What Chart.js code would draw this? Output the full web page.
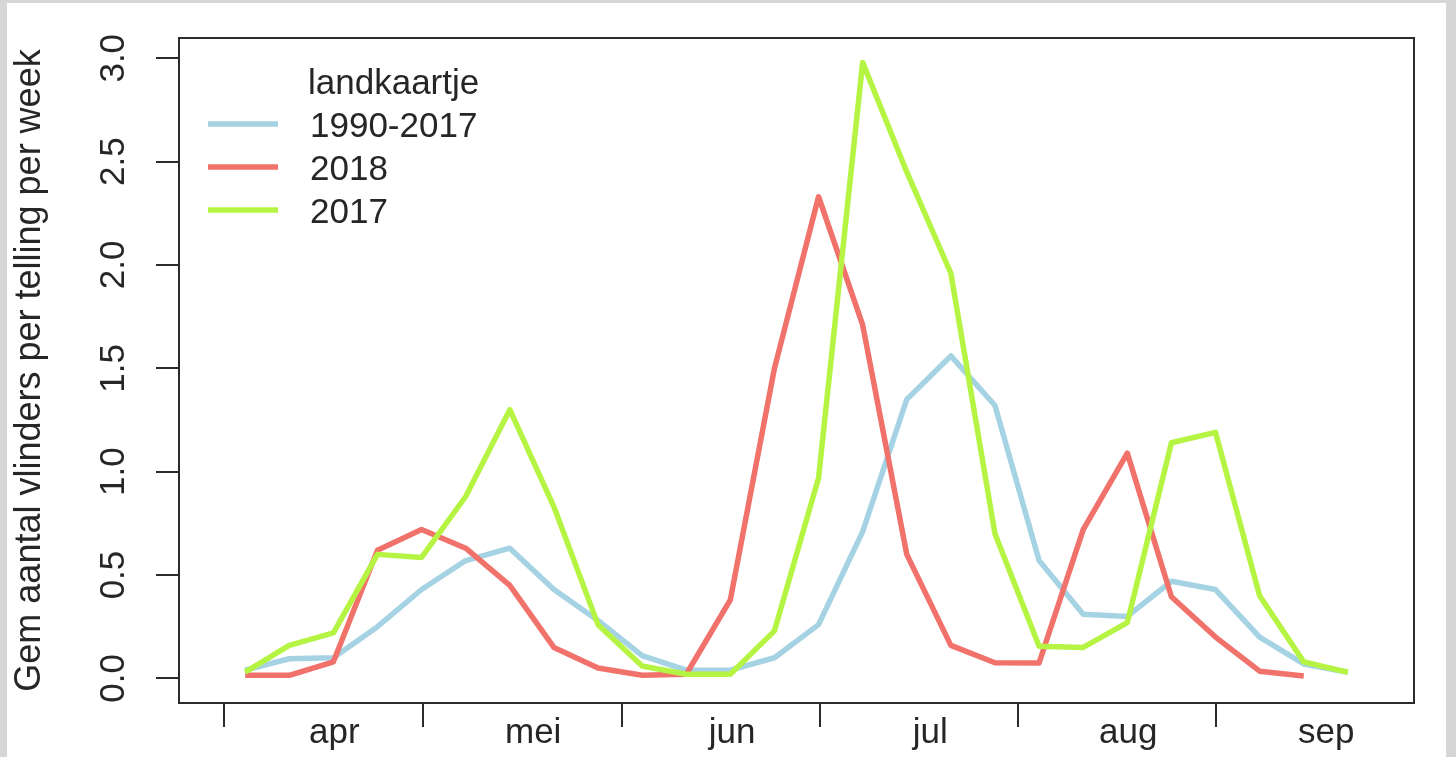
<!DOCTYPE html>
<html>
<head>
<meta charset="utf-8">
<script src="https://cdn.jsdelivr.net/npm/chart.js@4/dist/chart.umd.min.js"></script>
<style>
  html, body { margin: 0; padding: 0; background: #d6d6d6; }
  #paper { position: absolute; left: 7px; top: 3px; right: 10px; bottom: 0; background: #fff; }
  #chart { position: absolute; left: 0; top: 0; }
</style>
</head>
<body>
<div id="paper"></div>
<canvas id="chart" width="1456" height="757"></canvas>
<script>
// week numbers (x) and weekly averages per series
const weeks = [14, 15, 16, 17, 18, 19, 20, 21, 22, 23, 24, 25, 26,
               27, 28, 29, 30, 31, 32, 33, 34, 35, 36, 37, 38, 39];

const seriesNames = ['1990-2017', '2018', '2017'];

const avg19902017 = [0.04, 0.095, 0.10, 0.25, 0.43, 0.57, 0.63, 0.43, 0.28, 0.11, 0.04, 0.04, 0.10,
                     0.26, 0.71, 1.35, 1.56, 1.32, 0.57, 0.31, 0.30, 0.47, 0.43, 0.20, 0.07, 0.03];
const avg2018 = [0.015, 0.015, 0.08, 0.62, 0.72, 0.63, 0.45, 0.15, 0.05, 0.015, 0.02, 0.38, 1.50,
                 2.33, 1.71, 0.60, 0.16, 0.076, 0.075, 0.72, 1.09, 0.395, 0.20, 0.035, 0.012, null];
const avg2017 = [0.03, 0.16, 0.22, 0.60, 0.585, 0.88, 1.30, 0.83, 0.26, 0.06, 0.02, 0.02, 0.23,
                 0.97, 2.98, 2.45, 1.96, 0.70, 0.155, 0.15, 0.27, 1.14, 1.19, 0.40, 0.08, 0.03];

// axis ticks
const monthTicks = [13.52, 18.03, 22.54, 27.03, 31.52, 36.01];
const monthLabelPos = [16.02, 20.53, 25.04, 29.53, 34.02, 38.51];
const monthLabels = ['apr', 'mei', 'jun', 'jul', 'aug', 'sep'];
const yTicks = [0, 0.5, 1, 1.5, 2, 2.5, 3];
const yTickLabels = ['0.0', '0.5', '1.0', '1.5', '2.0', '2.5', '3.0'];

const colors = ['#a6d3e3', '#f0726a', '#b6f443'];
const axisColor = '#2b2b2b';
const FONT = 35;

Chart.defaults.font.family = "'Liberation Sans', Arial, sans-serif";
Chart.defaults.font.size = FONT;
Chart.defaults.color = axisColor;

const toPoints = (vals) => weeks.map((w, i) => ({ x: w, y: vals[i] }));

// box around the plot + legend without frame, like base R
const boxAndLegend = {
  id: 'boxAndLegend',
  afterDraw(chart) {
    const { ctx, chartArea: a } = chart;
    ctx.save();
    ctx.strokeStyle = axisColor;
    ctx.lineWidth = 2;
    ctx.strokeRect(a.left, a.top, a.right - a.left, a.bottom - a.top);

    ctx.font = FONT + "px 'Liberation Sans', Arial, sans-serif";
    ctx.fillStyle = '#262626';
    ctx.textBaseline = 'alphabetic';
    ctx.textAlign = 'left';
    ctx.fillText('landkaartje', a.left + 129, a.top + 56);
    seriesNames.forEach((name, i) => {
      const y = a.top + 86 + i * 43;
      ctx.strokeStyle = colors[i];
      ctx.lineWidth = 5.5;
      ctx.beginPath();
      ctx.moveTo(a.left + 29, y);
      ctx.lineTo(a.left + 99, y);
      ctx.stroke();
      ctx.fillText(name, a.left + 131, y + 12.5);
    });
    ctx.restore();
  }
};

new Chart(document.getElementById('chart'), {
  type: 'line',
  data: {
    datasets: [
      { label: seriesNames[0], data: toPoints(avg19902017), borderColor: colors[0], order: 3 },
      { label: seriesNames[1], data: toPoints(avg2018), borderColor: colors[1], order: 2 },
      { label: seriesNames[2], data: toPoints(avg2017), borderColor: colors[2], order: 1 }
    ]
  },
  options: {
    responsive: false,
    animation: false,
    events: [],
    devicePixelRatio: 1,
    elements: {
      line: { borderWidth: 5.5, tension: 0, borderJoinStyle: 'round', borderCapStyle: 'butt' },
      point: { radius: 0 }
    },
    layout: { padding: { top: 26, right: 42, bottom: 0, left: 0 } },
    plugins: { legend: { display: false }, tooltip: { enabled: false } },
    scales: {
      x: {
        type: 'linear',
        min: 12.5,
        max: 40.5,
        afterBuildTicks: (scale) => {
          scale.ticks = monthTicks.concat(monthLabelPos).map(v => ({ value: v }));
        },
        afterFit: (scale) => { scale.height = 54; },
        ticks: {
          autoSkip: false,
          maxRotation: 0,
          padding: -15,
          color: '#262626',
          callback: (v) => {
            const k = monthLabelPos.indexOf(v);
            return k >= 0 ? monthLabels[k] : '';
          }
        },
        grid: {
          drawOnChartArea: false,
          drawTicks: true,
          tickLength: 24,
          lineWidth: 2,
          color: axisColor,
          tickColor: (c) => (c.tick && monthTicks.includes(c.tick.value)) ? axisColor : 'rgba(0,0,0,0)'
        },
        border: { display: true, color: axisColor, width: 2 }
      },
      y: {
        type: 'linear',
        min: -0.119,
        max: 3.098,
        afterBuildTicks: (scale) => {
          scale.ticks = yTicks.map(v => ({ value: v }));
        },
        afterFit: (scale) => { scale.width = 179; },
        ticks: {
          autoSkip: false,
          minRotation: 90,
          maxRotation: 90,
          crossAlign: 'center',
          padding: 17,
          color: '#262626',
          callback: (v) => {
            const k = yTicks.indexOf(v);
            return k >= 0 ? yTickLabels[k] : '';
          }
        },
        grid: {
          drawOnChartArea: false,
          drawTicks: true,
          tickLength: 23,
          lineWidth: 2,
          color: axisColor
        },
        border: { display: true, color: axisColor, width: 2 },
        title: {
          display: true,
          text: 'Gem aantal vlinders per telling per week',
          color: '#262626',
          font: { size: 36 },
          padding: { top: 8, bottom: 0 }
        }
      }
    }
  },
  plugins: [boxAndLegend]
});
</script>
</body>
</html>
